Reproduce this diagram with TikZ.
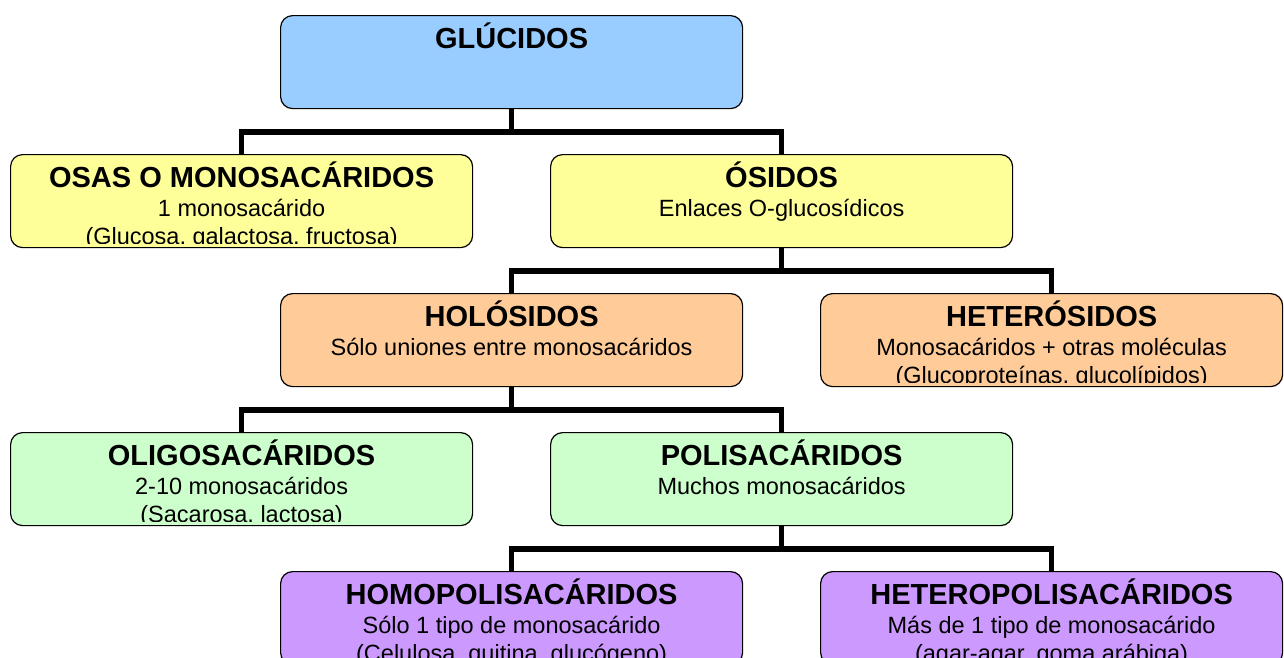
\documentclass[tikz,border=0pt]{standalone}
\usepackage{fontspec}
\setmainfont{Liberation Sans}
\usepackage{xcolor}
\usepackage{tikz}

\definecolor{azul}{HTML}{99CCFF}
\definecolor{amarillo}{HTML}{FFFF99}
\definecolor{naranja}{HTML}{FFCC99}
\definecolor{verde}{HTML}{CCFFCC}
\definecolor{morado}{HTML}{CC99FF}

\begin{document}
\begin{tikzpicture}[
            x=1pt, y=-1pt, % pixel grid, y going down
            caja/.style={draw=black, line width=1.2pt, rounded corners=12pt, anchor=north west,
                minimum width=462pt, minimum height=93pt, inner sep=0pt},
            titulo/.style={anchor=base, draw=none, fill=none, inner sep=0pt, minimum size=0pt,
                font=\fontsize{29}{34}\selectfont\bfseries},
            linea/.style={anchor=base, draw=none, fill=none, inner sep=0pt, minimum size=0pt,
                font=\fontsize{23.5}{28}\selectfont},
            textos/.style n args={3}{path picture={
                % text area stops a bit above the lower border
                \clip (path picture bounding box.north west) rectangle ([yshift=4.5pt]path picture bounding box.south east);
                \node[titulo] at ([yshift=-33pt]path picture bounding box.north) {#1};
                \node[linea] at ([yshift=-62pt]path picture bounding box.north) {#2};
                \node[linea] at ([yshift=-89.5pt]path picture bounding box.north) {#3};}},
            rama/.style={line width=5.5pt, draw=black}
        ]
        \useasboundingbox (0,0) rectangle (1284,657);
        
        % Top
        \node[caja, fill=azul, textos={GLÚCIDOS}{}{}] (glucidos) at (280,15) {};
        
        % Monosacáridos / ósidos
        \node[caja, fill=amarillo, textos={OSAS O MONOSACÁRIDOS}{1 monosacárido}{(Glucosa, galactosa, fructosa)}] (osas) at (10,154) {};
        \node[caja, fill=amarillo, textos={ÓSIDOS}{Enlaces O-glucosídicos}{}] (osidos) at (550,154) {};
        
        % Holósidos / heterósidos
        \node[caja, fill=naranja, textos={HOLÓSIDOS}{Sólo uniones entre monosacáridos}{}] (holosidos) at (280,293) {};
        \node[caja, fill=naranja, textos={HETERÓSIDOS}{Monosacáridos + otras moléculas}{(Glucoproteínas, glucolípidos)}] (heterosidos) at (820,293) {};
        
        % Oligo / poli
        \node[caja, fill=verde, textos={OLIGOSACÁRIDOS}{2-10 monosacáridos}{(Sacarosa, lactosa)}] (oligo) at (10,432) {};
        \node[caja, fill=verde, textos={POLISACÁRIDOS}{Muchos monosacáridos}{}] (poli) at (550,432) {};
        
        % Homo / hetero
        \node[caja, fill=morado, textos={HOMOPOLISACÁRIDOS}{Sólo 1 tipo de monosacárido}{(Celulosa, quitina, glucógeno)}] (homo) at (280,571) {};
        \node[caja, fill=morado, textos={HETEROPOLISACÁRIDOS}{Más de 1 tipo de monosacárido}{(agar-agar, goma arábiga)}] (heteropoli) at (820,571) {};
        
        % Branches
        \draw[rama] (glucidos.south) -- ++(0,23) -| (osas.north);
        \draw[rama] (glucidos.south) -- ++(0,23) -| (osidos.north);
        \draw[rama] (osidos.south) -- ++(0,23) -| (holosidos.north);
        \draw[rama] (osidos.south) -- ++(0,23) -| (heterosidos.north);
        \draw[rama] (holosidos.south) -- ++(0,23) -| (oligo.north);
        \draw[rama] (holosidos.south) -- ++(0,23) -| (poli.north);
        \draw[rama] (poli.south) -- ++(0,23) -| (homo.north);
        \draw[rama] (poli.south) -- ++(0,23) -| (heteropoli.north);
        
        \end{tikzpicture}
\end{document}
